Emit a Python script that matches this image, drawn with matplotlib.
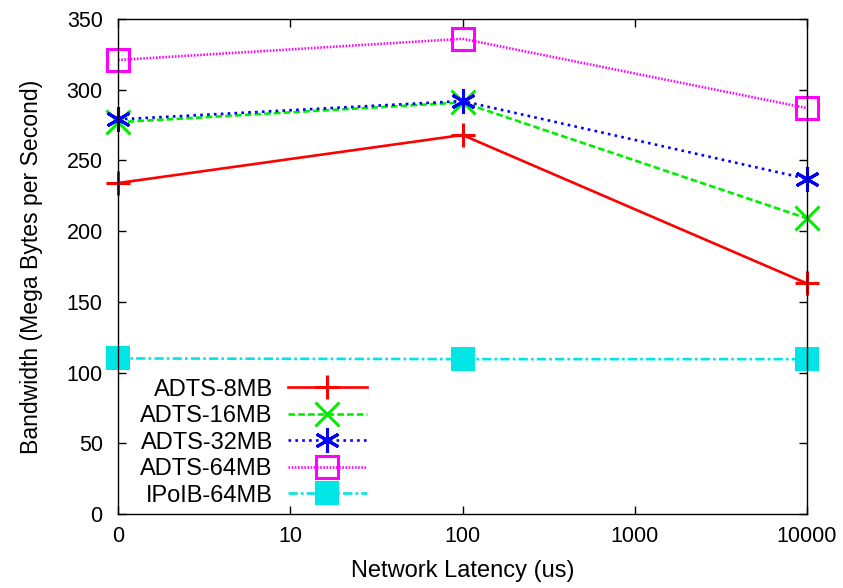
import matplotlib
matplotlib.use("Agg")
import matplotlib.pyplot as plt

plt.rcParams['font.family'] = ['Liberation Sans', 'DejaVu Sans']

x_labels = ['0', '10', '100', '1000', '10000']
latency = ['0', '100', '10000']

adts_8 = [234, 268, 163]
adts_16 = [277, 291, 209]
adts_32 = [279, 292, 237]
adts_64 = [321, 336, 287]
ipoib_64 = [110, 109.5, 109.5]

series = [
    ('ADTS-8MB', adts_8, dict(color='#ff0000', ls='-', marker='+', ms=17, mew=2.2)),
    ('ADTS-16MB', adts_16, dict(color='#00ee00', ls=(0, (2.5, 1.2)), marker='x', ms=17, mew=2.2)),
    ('ADTS-32MB', adts_32, dict(color='#0000ff', ls=(0, (1, 1.6)), marker=(6, 2, 0), ms=18, mew=2.2)),
    ('ADTS-64MB', adts_64, dict(color='#ff00ff', ls=(0, (0.6, 0.6)), marker='s', ms=16, mew=2.2, mfc='none')),
    ('IPoIB-64MB', ipoib_64, dict(color='#00e5e5', ls=(0, (3.5, 1.2, 1, 1.2)), marker='s', ms=17, mew=0)),
]

fig = plt.figure(figsize=(8.43, 5.88), dpi=100)
ax = fig.add_axes([118 / 843, 74 / 588, 689 / 843, 495 / 588])

xpos = [x_labels.index(v) for v in latency]
for name, vals, st in series:
    ax.plot(xpos, vals, label=name, lw=1.9, clip_on=False, **st)

ax.set_xlim(0, len(x_labels) - 1)
ax.set_ylim(0, 350)
ax.set_xticks(range(len(x_labels)))
ax.set_xticklabels(x_labels)
ax.set_yticks(range(0, 351, 50))
ax.tick_params(direction='in', top=True, right=True, length=5.5, width=1, labelsize=15.5)
ax.tick_params(axis='y', pad=11)
ax.tick_params(axis='x', pad=9)
for s in ax.spines.values():
    s.set_linewidth(1.0)
ax.set_xlabel('Network Latency (us)', fontsize=17, labelpad=9)
ax.set_ylabel('Bandwidth (Mega Bytes per Second)', fontsize=16.6, labelpad=17)

leg = ax.legend(loc='lower right', bbox_to_anchor=(249 / 689, 0.015), frameon=False,
                markerfirst=False, fontsize=17, handlelength=3.35, handletextpad=0.64,
                labelspacing=0.19, borderpad=0, borderaxespad=0)

fig.savefig('out.png', dpi=100)
